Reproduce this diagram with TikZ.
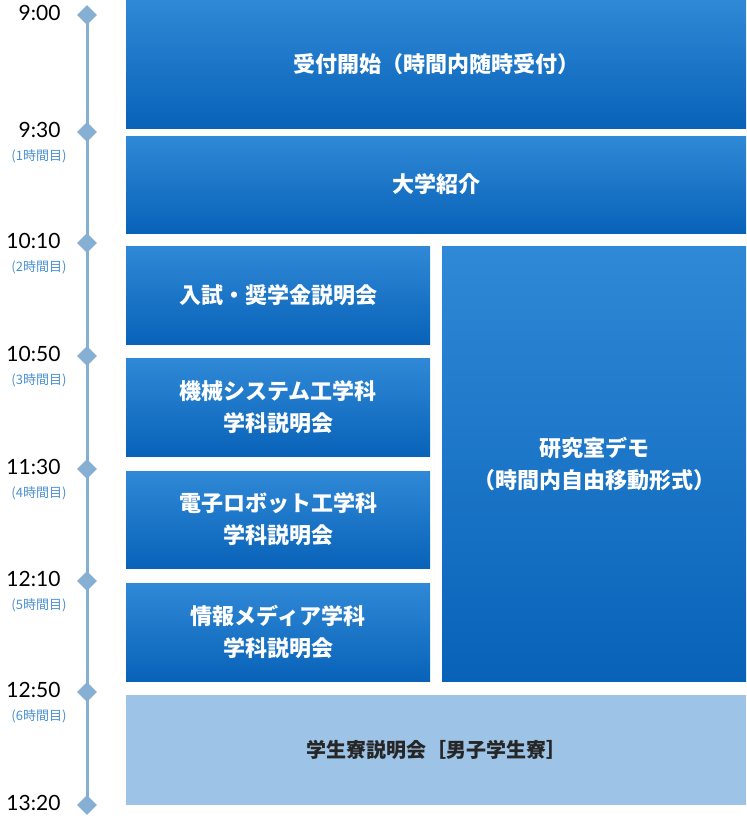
\documentclass[tikz,border=0pt]{standalone}
\usepackage{fontspec}
\setmainfont{Lato}
\newfontfamily\cjk{Noto Sans CJK JP}
\usetikzlibrary{shapes.geometric,calc}
\definecolor{boxtop}{HTML}{3089D6}
\definecolor{boxbot}{HTML}{0862B8}
\definecolor{lightbox}{HTML}{9DC3E6}
\definecolor{tline}{HTML}{85AFD3}
\definecolor{sublbl}{HTML}{4A90D0}
\tikzset{
	slot/.style={top color=boxtop, bottom color=boxbot, draw=none},
	slottext/.style={text=white, font=\cjk\bfseries\fontsize{22}{32}\selectfont, align=center},
	tick/.style={diamond, fill=tline, inner sep=0pt, minimum size=20pt},
	timelbl/.style={anchor=east, font=\fontsize{21}{22}\selectfont},
	hourlbl/.style={text=sublbl, font=\cjk\fontsize{13}{14}\selectfont}
}
\newcommand{\slotbox}[6]{
	\fill[slot] (#2,#3) rectangle (#4,#5);
	\node[slottext] (#1) at ($(#2,#3)!0.5!(#4,#5)$) {#6};
}
\begin{document}
\begin{tikzpicture}[x=1pt,y=-1pt]
	\useasboundingbox (0,0) rectangle (747,820);
	\draw[tline, line width=3pt] (87,15) -- (87,805);
	\foreach \yy/\tt in {15/9:00, 132/9:30, 243/10:10, 356/10:50, 469/11:30, 581/12:10, 692/12:50, 805/13:20}{
		\node[tick] (t\yy) at (87,\yy) {};
		\node[timelbl] (tl\yy) at (64,\yy-2) {\tt};
	}
	\foreach \yy/\hh in {132/1, 243/2, 356/3, 469/4, 581/5, 692/6}
		\node[hourlbl] (h\yy) at (39,\yy+24) {(\hh 時間目)};
	\slotbox{reception}{126}{0}{746}{128}{受付開始（時間内随時受付）}
	\slotbox{intro}{126}{136}{746}{233}{大学紹介}
	\slotbox{exam}{126}{246}{430}{344}{入試・奨学金説明会}
	\slotbox{mech}{126}{358}{430}{456}{機械システム工学科\\学科説明会}
	\slotbox{robot}{126}{471}{430}{568}{電子ロボット工学科\\学科説明会}
	\slotbox{info}{126}{583}{430}{681}{情報メディア学科\\学科説明会}
	\slotbox{lab}{442}{246}{746}{681}{研究室デモ\\（時間内自由移動形式）}
	\fill[lightbox] (126,695) rectangle (746,805);
	\node[font=\cjk\bfseries\fontsize{20}{24}\selectfont, text=black!85] (dorm) at (436,750) {学生寮説明会［男子学生寮］};
\end{tikzpicture}
\end{document}
